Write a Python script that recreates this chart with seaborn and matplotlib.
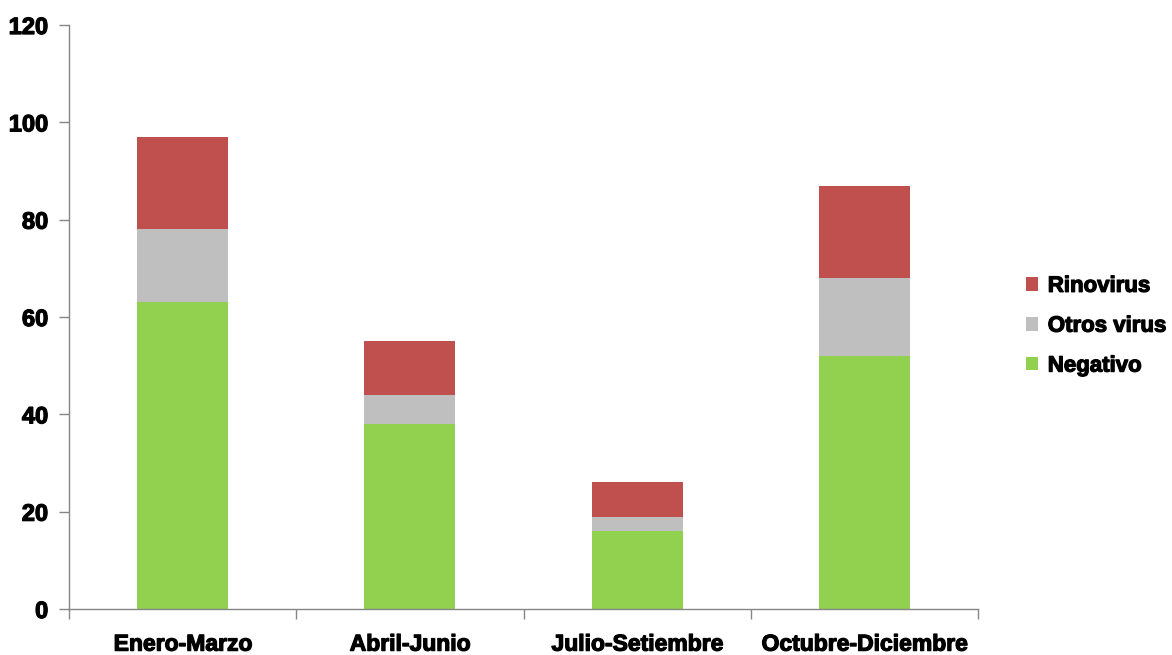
import matplotlib
matplotlib.use("Agg")
import matplotlib.pyplot as plt
import matplotlib.patheffects as pe
import seaborn as sns
import numpy as np
import pandas as pd
from matplotlib.patches import Patch

# Quarterly counts by result
trimestres = ["Enero-Marzo", "Abril-Junio", "Julio-Setiembre", "Octubre-Diciembre"]
negativo = [63, 38, 16, 52]
otros_virus = [15, 6, 3, 16]
rinovirus = [19, 11, 7, 19]

series = ["Negativo", "Otros virus", "Rinovirus"]
colores = {"Negativo": "#92D050", "Otros virus": "#BFBFBF", "Rinovirus": "#C0504D"}
yticks = [0, 20, 40, 60, 80, 100, 120]

sns.set_style("white")
plt.rcParams["font.family"] = ["Liberation Sans", "DejaVu Sans"]
plt.rcParams["font.weight"] = "bold"
plt.rcParams["text.color"] = "black"
plt.rcParams["xtick.color"] = "black"
plt.rcParams["ytick.color"] = "black"

heavy = [pe.withStroke(linewidth=0.9, foreground="black")]

df = pd.DataFrame({"trimestre": trimestres, "Negativo": negativo,
                   "Otros virus": otros_virus, "Rinovirus": rinovirus})
# cumulative heights for stacking: draw tallest layer first
cum = df[series].cumsum(axis=1)

fig = plt.figure(figsize=(11.72, 6.55), dpi=100)
ax = fig.add_axes([0.0589, 0.0702, 0.7757, 0.8916])

for s in reversed(series):
    sns.barplot(x=df["trimestre"], y=cum[s], color=colores[s], width=0.4,
                saturation=1, ax=ax, linewidth=0, order=trimestres)

ax.set_xlim(-0.5, 3.5)
ax.set_ylim(0, 120)
ax.set_yticks(yticks)
ax.set_yticklabels([str(v) for v in yticks], fontsize=17, fontweight="bold")
ax.set_xticks(np.arange(-0.5, 4, 1.0))
ax.set_xticklabels([""] * 5)
ax.set_xticks(range(len(trimestres)), minor=True)
ax.set_xticklabels(trimestres, minor=True, fontsize=16.5, fontweight="bold")
ax.tick_params(axis="x", which="major", bottom=True, length=7, width=1,
               color="#868686", direction="out")
ax.tick_params(axis="x", which="minor", bottom=True, length=0, pad=17)
ax.tick_params(axis="y", left=True, length=7, width=1, color="#868686",
               direction="out", pad=8)
for lab in ax.get_yticklabels() + ax.get_xticklabels(minor=True):
    lab.set_path_effects(heavy)
ax.set_xlabel("")
ax.set_ylabel("")

sns.despine(ax=ax, top=True, right=True)
for side in ("left", "bottom"):
    ax.spines[side].set_color("#868686")
    ax.spines[side].set_linewidth(1)

handles = [Patch(facecolor=colores[s], edgecolor="none", label=s) for s in reversed(series)]
leg = fig.legend(handles=handles, loc="center left", bbox_to_anchor=(0.858, 0.502),
                 frameon=False, prop={"size": 16, "weight": "bold"},
                 handlelength=0.55, handleheight=0.55, handletextpad=0.45,
                 labelspacing=0.85)
for t in leg.get_texts():
    t.set_path_effects(heavy)

fig.savefig("out.png", dpi=100)
